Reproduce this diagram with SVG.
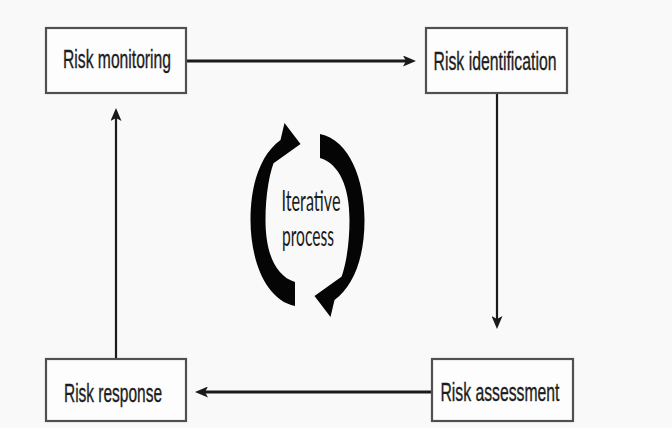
<svg xmlns="http://www.w3.org/2000/svg" width="672" height="428" viewBox="0 0 672 428">
  <defs>
    <style>
      .box { fill: #fdfdfd; stroke: #505050; stroke-width: 2.2; }
      .label { font-family: "Liberation Sans", Arial, sans-serif; font-size: 25px; fill: #1c1c1c; stroke: #1c1c1c; stroke-width: 0.35; text-anchor: middle; }
      .cycle-text { font-family: Lato, "Open Sans", sans-serif; font-size: 28px; fill: #1c1c1c; text-anchor: middle; }
      .link { fill: none; stroke: #1a1a1a; }
      .thick { stroke-width: 2.8; }
      .thin { stroke-width: 2.2; }
      .cycle { fill: #050505; }
    </style>
    <marker id="head" viewBox="0 0 13 11" refX="3" refY="5.5" markerWidth="13" markerHeight="11" markerUnits="userSpaceOnUse" orient="auto">
      <path d="M0,0 L13,5.5 L0,11 L3,5.5 Z" fill="#1a1a1a"/>
    </marker>
    <!-- one half of the circular arrow pair, drawn about its own centre -->
    <path id="halfArc" d="M -12.5 86 C -42 80 -57 40 -57 0 C -57 -38 -46 -66 -27 -80 L -23 -97 L -7 -76 L -35 -56 L -31 -64 C -38 -50 -42 -25 -42 0 C -42 33 -32 56 -12.5 62 Z"/>
  </defs>

  <rect width="672" height="428" fill="#f9f9f9"/>

  <g id="connectors">
    <line class="link thick" x1="186" y1="61" x2="406" y2="61" marker-end="url(#head)"/>
    <line class="link thin" x1="497" y1="93" x2="497" y2="319" marker-end="url(#head)"/>
    <line class="link thick" x1="432" y1="392" x2="205" y2="392" marker-end="url(#head)"/>
    <line class="link thin" x1="116" y1="359" x2="116" y2="118" marker-end="url(#head)"/>
  </g>

  <g id="risk-monitoring">
    <rect class="box" x="46" y="28" width="140" height="65"/>
    <text class="label" x="117" y="68" textLength="108" lengthAdjust="spacingAndGlyphs">Risk monitoring</text>
  </g>

  <g id="risk-identification">
    <rect class="box" x="426" y="28" width="141" height="65"/>
    <text class="label" x="495" y="70" textLength="123" lengthAdjust="spacingAndGlyphs">Risk identification</text>
  </g>

  <g id="risk-assessment">
    <rect class="box" x="432" y="359" width="141" height="62"/>
    <text class="label" x="500" y="401" textLength="119" lengthAdjust="spacingAndGlyphs">Risk assessment</text>
  </g>

  <g id="risk-response">
    <rect class="box" x="46" y="359" width="140" height="62"/>
    <text class="label" x="113" y="402" textLength="98" lengthAdjust="spacingAndGlyphs">Risk response</text>
  </g>

  <g id="iterative-process">
    <use href="#halfArc" class="cycle" transform="translate(307.5 220)"/>
    <use href="#halfArc" class="cycle" transform="translate(307.5 220) rotate(180)"/>
    <text class="cycle-text" x="311" y="211" textLength="59" lengthAdjust="spacingAndGlyphs">Iterative</text>
    <text class="cycle-text" x="308" y="246" textLength="52" lengthAdjust="spacingAndGlyphs">process</text>
  </g>
</svg>
